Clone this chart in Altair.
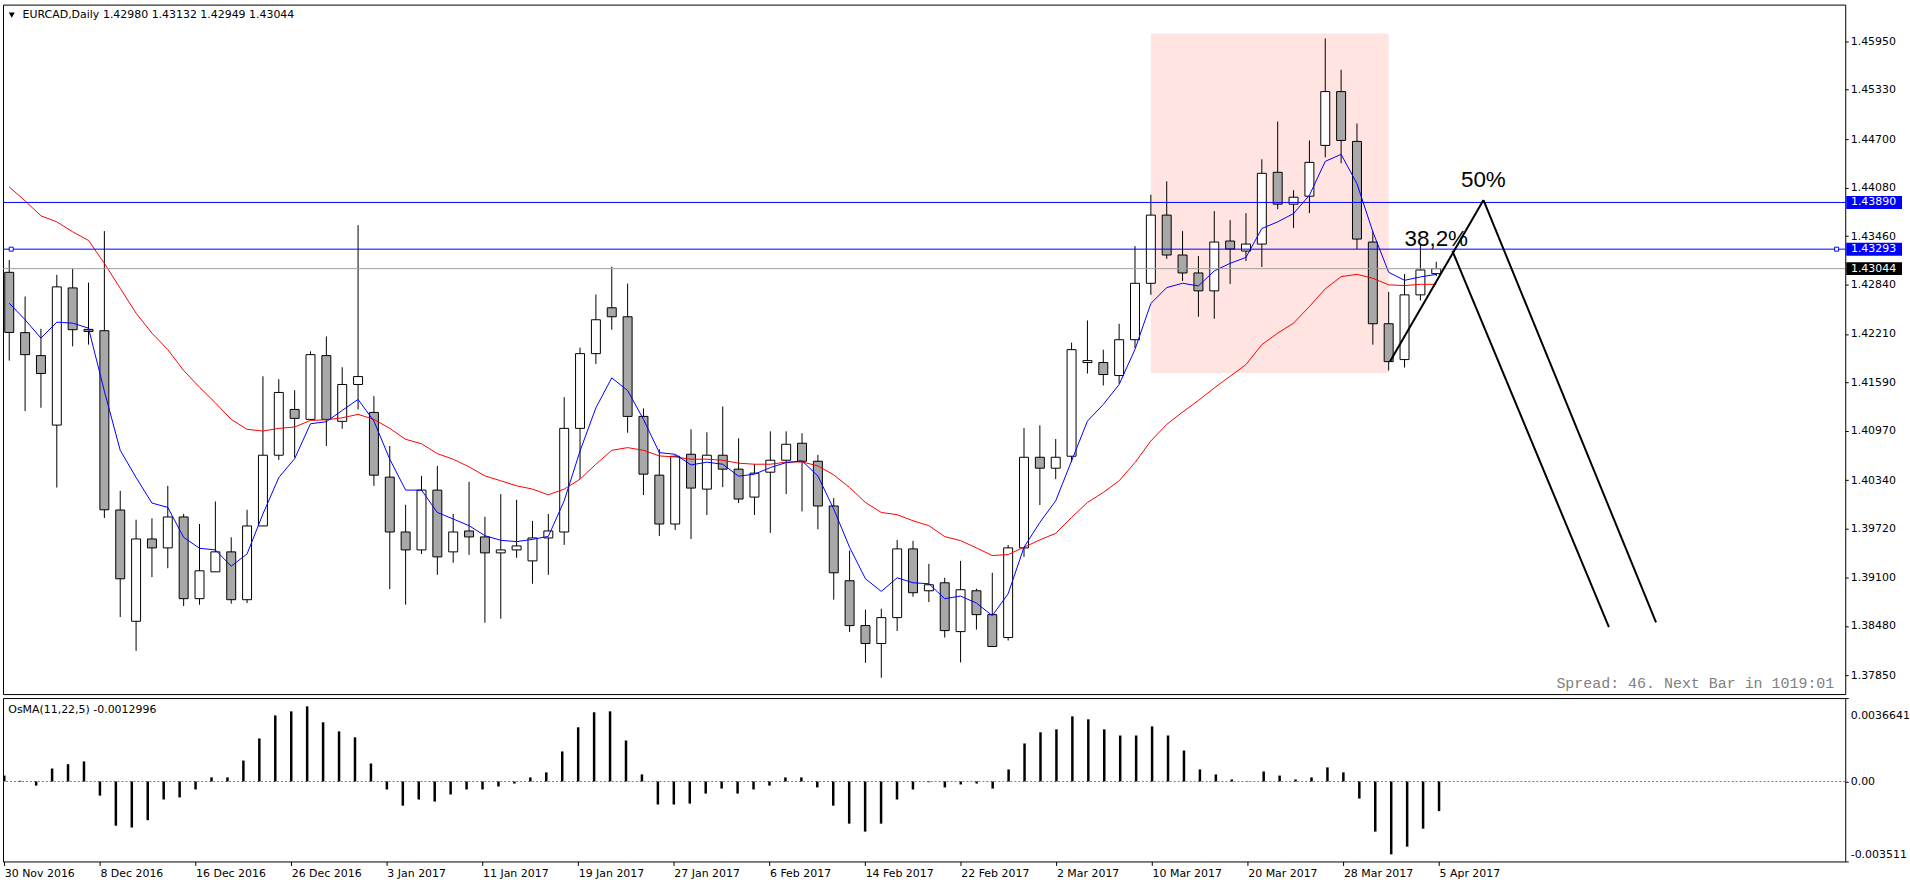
import altair as alt
import pandas as pd

# ---------------- data ----------------
bar_index = list(range(91))

open_ = [1.42997, 1.42226, 1.41933, 1.41045, 1.42798, 1.42268, 1.42251, 1.39960, 1.38538, 1.39590,
         1.39476, 1.39871, 1.38827, 1.39170, 1.39425, 1.38814, 1.39756, 1.40660, 1.41245, 1.41118,
         1.41933, 1.41093, 1.41564, 1.41207, 1.40380, 1.39679, 1.39450, 1.40214, 1.39425, 1.39692,
         1.39616, 1.39412, 1.39450, 1.39310, 1.39603, 1.39679, 1.41003, 1.41958, 1.42544, 1.42429,
         1.41156, 1.40405, 1.39781, 1.40672, 1.40227, 1.40660, 1.40482, 1.40125, 1.40443, 1.40596,
         1.40813, 1.40583, 1.40011, 1.39056, 1.38483, 1.38254, 1.38585, 1.39463, 1.38928, 1.39030,
         1.38406, 1.38928, 1.38623, 1.38330, 1.39476, 1.40634, 1.40494, 1.40647, 1.41844, 1.41844,
         1.41678, 1.42136, 1.42857, 1.43728, 1.43218, 1.42989, 1.42760, 1.43397, 1.43269, 1.43358,
         1.44275, 1.43868, 1.43970, 1.44619, 1.45306, 1.44670, 1.43384, 1.42340, 1.41882, 1.42709,
         1.42980]
high = [1.43155, 1.42688, 1.42276, 1.42964, 1.43040, 1.42866, 1.43524, 1.40205, 1.39836, 1.39853,
        1.40269, 1.39909, 1.39781, 1.40069, 1.39611, 1.39963, 1.41669, 1.41631, 1.41491, 1.41987,
        1.42178, 1.41784, 1.43600, 1.41415, 1.40778, 1.40027, 1.40396, 1.40524, 1.39909, 1.40320,
        1.39874, 1.40163, 1.40091, 1.39820, 1.39909, 1.41402, 1.42035, 1.42713, 1.43070, 1.42853,
        1.41258, 1.40736, 1.40660, 1.40991, 1.40953, 1.41283, 1.40876, 1.40545, 1.40965, 1.40965,
        1.40940, 1.40664, 1.40112, 1.39441, 1.38687, 1.38699, 1.39578, 1.39565, 1.39272, 1.39094,
        1.39310, 1.38954, 1.39158, 1.39514, 1.41007, 1.41042, 1.40867, 1.42098, 1.42382, 1.42009,
        1.42340, 1.43333, 1.43990, 1.44160, 1.43524, 1.43206, 1.43779, 1.43664, 1.43753, 1.44441,
        1.44924, 1.44046, 1.44682, 1.45985, 1.45586, 1.44899, 1.43524, 1.42747, 1.42977, 1.43346,
        1.43132]
low = [1.41869, 1.41224, 1.41266, 1.40247, 1.42051, 1.42073, 1.39858, 1.38592, 1.38160, 1.39102,
       1.39216, 1.38732, 1.38750, 1.39170, 1.38763, 1.38771, 1.39756, 1.40600, 1.40629, 1.41118,
       1.40778, 1.40998, 1.41245, 1.40269, 1.38949, 1.38750, 1.39399, 1.39132, 1.39285, 1.39387,
       1.38521, 1.38572, 1.39349, 1.39018, 1.39132, 1.39514, 1.40358, 1.41826, 1.42264, 1.40947,
       1.40151, 1.39629, 1.39705, 1.39590, 1.39896, 1.40252, 1.40049, 1.39896, 1.39667, 1.40163,
       1.39942, 1.39713, 1.38814, 1.38401, 1.38007, 1.37816, 1.38414, 1.38852, 1.38783, 1.38330,
       1.38012, 1.38432, 1.38216, 1.38292, 1.39361, 1.40023, 1.40354, 1.40571, 1.41704, 1.41551,
       1.41576, 1.42030, 1.42709, 1.43168, 1.42888, 1.42429, 1.42404, 1.42849, 1.43142, 1.43066,
       1.43804, 1.43562, 1.43753, 1.44466, 1.44390, 1.43295, 1.42073, 1.41742, 1.41780, 1.42637,
       1.42949]
close = [1.42229, 1.41945, 1.41704, 1.42811, 1.42264, 1.42242, 1.39963, 1.39081, 1.39590, 1.39476,
         1.39871, 1.38827, 1.39183, 1.39425, 1.38814, 1.39756, 1.40660, 1.41462, 1.41131, 1.41945,
         1.41118, 1.41564, 1.41665, 1.40405, 1.39679, 1.39450, 1.40214, 1.39361, 1.39679, 1.39616,
         1.39412, 1.39450, 1.39501, 1.39603, 1.39692, 1.41003, 1.41958, 1.42391, 1.42429, 1.41156,
         1.40418, 1.39781, 1.40647, 1.40240, 1.40660, 1.40482, 1.40100, 1.40431, 1.40596, 1.40800,
         1.40583, 1.40011, 1.39158, 1.38483, 1.38254, 1.38585, 1.39463, 1.38903, 1.39005, 1.38419,
         1.38941, 1.38623, 1.38216, 1.39476, 1.40634, 1.40494, 1.40634, 1.42009, 1.41869, 1.41691,
         1.42136, 1.42857, 1.43728, 1.43218, 1.42989, 1.42760, 1.43384, 1.43295, 1.43358, 1.44262,
         1.43868, 1.43957, 1.44402, 1.45306, 1.44682, 1.43422, 1.42340, 1.41856, 1.42709, 1.43027,
         1.43044]
fast_ma = [1.42602, 1.42391, 1.42157, 1.42360, 1.42348, 1.42284, 1.41478, 1.40723, 1.40375, 1.40049,
           1.39993, 1.39611, 1.39471, 1.39450, 1.39242, 1.39399, 1.39909, 1.40375, 1.40616, 1.41062,
           1.41088, 1.41233, 1.41373, 1.41096, 1.40609, 1.40214, 1.40214, 1.39929, 1.39845, 1.39760,
           1.39632, 1.39573, 1.39556, 1.39585, 1.39623, 1.40078, 1.40714, 1.41266, 1.41648, 1.41487,
           1.41118, 1.40693, 1.40672, 1.40536, 1.40571, 1.40545, 1.40392, 1.40418, 1.40502, 1.40566,
           1.40587, 1.40396, 1.39972, 1.39484, 1.39081, 1.38920, 1.39094, 1.39030, 1.39018, 1.38827,
           1.38860, 1.38771, 1.38610, 1.38890, 1.39484, 1.39802, 1.40078, 1.40587, 1.41096, 1.41309,
           1.41564, 1.42013, 1.42599, 1.42802, 1.42857, 1.42824, 1.43015, 1.43112, 1.43188, 1.43557,
           1.43642, 1.43748, 1.43982, 1.44415, 1.44504, 1.44130, 1.43515, 1.42997, 1.42895, 1.42938,
           1.42971]
slow_ma = [1.44088, 1.43910, 1.43719, 1.43642, 1.43515, 1.43404, 1.43112, 1.42793, 1.42475, 1.42220,
           1.42009, 1.41742, 1.41529, 1.41329, 1.41118, 1.40991, 1.40969, 1.41003, 1.41020, 1.41105,
           1.41113, 1.41138, 1.41182, 1.41118, 1.41003, 1.40863, 1.40807, 1.40680, 1.40609, 1.40511,
           1.40396, 1.40333, 1.40269, 1.40227, 1.40154, 1.40227, 1.40354, 1.40545, 1.40723, 1.40757,
           1.40723, 1.40651, 1.40638, 1.40609, 1.40609, 1.40596, 1.40558, 1.40545, 1.40545, 1.40571,
           1.40574, 1.40524, 1.40409, 1.40247, 1.40056, 1.39929, 1.39900, 1.39823, 1.39760, 1.39620,
           1.39569, 1.39476, 1.39378, 1.39391, 1.39484, 1.39578, 1.39662, 1.39865, 1.40056, 1.40184,
           1.40333, 1.40566, 1.40842, 1.41054, 1.41211, 1.41360, 1.41520, 1.41669, 1.41818, 1.42073,
           1.42220, 1.42348, 1.42560, 1.42786, 1.42942, 1.42971, 1.42921, 1.42837, 1.42828, 1.42844,
           1.42844]
osma = [0.00026, 0.00003, -0.00018, 0.00057, 0.00076, 0.00088, -0.00062, -0.00194, -0.00202, -0.00170,
        -0.00079, -0.00070, -0.00035, 0.00018, 0.00018, 0.00092, 0.00189, 0.00290, 0.00308, 0.00330,
        0.00260, 0.00220, 0.00194, 0.00079, -0.00035, -0.00106, -0.00079, -0.00088, -0.00057, -0.00035,
        -0.00035, -0.00022, -0.00009, 0.00018, 0.00040, 0.00132, 0.00238, 0.00304, 0.00308, 0.00180,
        0.00031, -0.00101, -0.00101, -0.00097, -0.00053, -0.00031, -0.00053, -0.00035, -0.00018, 0.00018,
        0.00018, -0.00026, -0.00106, -0.00185, -0.00220, -0.00185, -0.00079, -0.00035, -0.00003, -0.00026,
        -0.00013, -0.00009, -0.00031, 0.00053, 0.00167, 0.00216, 0.00229, 0.00286, 0.00273, 0.00229,
        0.00202, 0.00202, 0.00242, 0.00202, 0.00136, 0.00053, 0.00031, 0.00009, 0.00001, 0.00044,
        0.00026, 0.00009, 0.00018, 0.00062, 0.00040, -0.00075, -0.00220, -0.00320, -0.00286, -0.00207,
        -0.0012996]

date_labels = ["30 Nov 2016", "8 Dec 2016", "16 Dec 2016", "26 Dec 2016", "3 Jan 2017", "11 Jan 2017",
               "19 Jan 2017", "27 Jan 2017", "6 Feb 2017", "14 Feb 2017", "22 Feb 2017", "2 Mar 2017",
               "10 Mar 2017", "20 Mar 2017", "28 Mar 2017", "5 Apr 2017"]
date_label_bars = [0, 6, 12, 18, 24, 30, 36, 42, 48, 54, 60, 66, 72, 78, 84, 90]

price_ticks = [1.37850, 1.38480, 1.39100, 1.39720, 1.40340, 1.40970, 1.41590, 1.42210, 1.42840,
               1.43460, 1.44080, 1.44700, 1.45330, 1.45950]
osma_ticks = [0.0036641, 0.0, -0.003511]
osma_tick_labels = ["0.0036641", "0.00", "-0.003511"]

level_prices = [1.43890, 1.43293]
level_labels = ["1.43890", "1.43293"]
bid_price = 1.43044
bid_label = "1.43044"

zone_bars = [72, 87]
zone_prices = [1.41711, 1.46048]

pattern_seg = ["up", "up", "leg1", "leg1", "leg2", "leg2"]
pattern_bar = [87.09, 92.98, 91.02, 100.89, 92.98, 103.86]
pattern_price = [1.41860, 1.43920, 1.43270, 1.38462, 1.43920, 1.38525]

fib_text = ["38,2%", "50%"]
fib_bar = [90.0, 92.97]
fib_price = [1.43337, 1.44088]

handle_bars = [0.125, 115.25]

title_name = "EURCAD,Daily"
title_quote = "1.42980 1.43132 1.42949 1.43044"
osma_title = "OsMA(11,22,5) -0.0012996"
spread_text = "Spread: 46. Next Bar in 1019:01"

# ---------------- layout ----------------
W = 1849
H_MAIN = 692
H_OSMA = 164
X_DOMAIN = [-0.08, 115.48]
Y_DOMAIN = [1.37608, 1.46418]
OSMA_DOMAIN = [-0.003511, 0.0036641]
FONT = "DejaVu Sans"

df = pd.DataFrame({"bar": bar_index, "open": open_, "high": high, "low": low, "close": close,
                   "fast": fast_ma, "slow": slow_ma, "osma": osma})

xs = alt.Scale(domain=X_DOMAIN, nice=False, zero=False)
ys = alt.Scale(domain=Y_DOMAIN, nice=False, zero=False)
os_s = alt.Scale(domain=OSMA_DOMAIN, nice=False, zero=False)

main_axis = alt.Axis(orient="right", values=price_ticks, format=".5f", grid=False, domain=False,
                     tickSize=3, tickColor="black", labelColor="black", labelFont=FONT,
                     labelFontSize=11, labelPadding=2, labelOverlap=False, labelFlush=False,
                     title=None)

label_expr = "[" + ",".join("'%s'" % s for s in date_labels) + "][round(datum.value / 6)]"
x_axis = alt.Axis(values=date_label_bars, labelExpr=label_expr, orient="bottom", grid=False,
                  domain=False, tickSize=4, tickColor="black", labelColor="black", labelFont=FONT,
                  labelFontSize=11, labelAlign="left", labelBaseline="top", labelPadding=2,
                  labelOverlap=False, labelFlush=False, title=None)
osma_expr = ("datum.value > 0.001 ? '%s' : (datum.value < -0.001 ? '%s' : '%s')"
             % (osma_tick_labels[0], osma_tick_labels[2], osma_tick_labels[1]))
osma_axis = alt.Axis(orient="right", values=osma_ticks, labelExpr=osma_expr, grid=False,
                     domain=False, tickSize=3, tickColor="black", labelColor="black",
                     labelFont=FONT, labelFontSize=11, labelPadding=2, labelOverlap=False,
                     labelFlush=False, title=None,
                     labelOffset={"condition": [{"test": "datum.value > 0.001", "value": 18},
                                                {"test": "datum.value < -0.001", "value": -7}],
                                  "value": 0})


def X(field):
    return alt.X(field, type="quantitative", scale=xs, axis=None, title=None)


def Y(field):
    return alt.Y(field, type="quantitative", scale=ys, axis=main_axis, title=None)


def XO(field):
    return alt.X(field, type="quantitative", scale=xs, axis=x_axis, title=None)


def YO(field):
    return alt.Y(field, type="quantitative", scale=os_s, axis=osma_axis, title=None)


zone_df = pd.DataFrame({"b1": [zone_bars[0]], "b2": [zone_bars[1]],
                        "p1": [zone_prices[0]], "p2": [zone_prices[1]]})
zone = alt.Chart(zone_df).mark_rect(color="#FFE4E1").encode(
    x=X("b1"), x2="b2:Q", y=Y("p1"), y2="p2:Q")

base = alt.Chart(df)
wicks = base.mark_rule(color="black", strokeWidth=1).encode(x=X("bar"), y=Y("low"), y2="high:Q")
bodies = base.mark_bar(size=9, stroke="black", strokeWidth=1).encode(
    x=X("bar"), y=Y("open"), y2="close:Q",
    fill=alt.condition("datum.close >= datum.open", alt.value("white"), alt.value("#A8A8A8")))
slow_line = base.mark_line(color="#FF0000", strokeWidth=1).encode(x=X("bar"), y=Y("slow"))
fast_line = base.mark_line(color="#0000FF", strokeWidth=1).encode(x=X("bar"), y=Y("fast"))

lv_df = pd.DataFrame({"price": level_prices, "label": level_labels})
bid_df = pd.DataFrame({"price": [bid_price], "label": [bid_label]})
bid_rule = alt.Chart(bid_df).mark_rule(color="#A0A0A0", strokeWidth=1).encode(y=Y("price"))
level_rules = alt.Chart(lv_df).mark_rule(color="#0000FF", strokeWidth=1).encode(y=Y("price"))

handle_df = pd.DataFrame({"bar": handle_bars, "price": [level_prices[1]] * len(handle_bars)})
handles = alt.Chart(handle_df).mark_square(size=16, fill="white", stroke="#0000FF",
                                           strokeWidth=1, opacity=1).encode(x=X("bar"), y=Y("price"))

pat_df = pd.DataFrame({"seg": pattern_seg, "bar": pattern_bar, "price": pattern_price})
pattern = alt.Chart(pat_df).mark_line(color="black", strokeWidth=2).encode(
    x=X("bar"), y=Y("price"), detail="seg:N")

fib_df = pd.DataFrame({"t": fib_text, "bar": fib_bar, "price": fib_price})
fib = alt.Chart(fib_df).mark_text(font="Liberation Sans", fontSize=22.5, color="black",
                                  align="center", baseline="alphabetic").encode(
    x=X("bar"), y=Y("price"), text="t:N")

box_df = pd.DataFrame({"price": level_prices + [bid_price], "label": level_labels + [bid_label],
                       "bg": ["#0000FF", "#0000FF", "#000000"]})
boxes = alt.Chart(box_df).mark_rule(strokeWidth=13, strokeCap="butt").encode(
    y=Y("price"), x=alt.value(W + 1), x2=alt.value(W + 57), color=alt.Color("bg:N", scale=None))
box_text = alt.Chart(box_df).mark_text(font=FONT, fontSize=11, color="white", align="left",
                                       baseline="middle").encode(
    y=Y("price"), x=alt.value(W + 5.7), text="label:N")

title_df = pd.DataFrame({"name": [title_name], "quote": [title_quote]})
tri = alt.Chart(title_df).mark_point(shape="triangle-down", filled=True, color="black", size=36,
                                     opacity=1).encode(x=alt.value(8.8), y=alt.value(10.5))
title_a = alt.Chart(title_df).mark_text(font=FONT, fontSize=11, color="black", align="left",
                                        baseline="middle").encode(
    x=alt.value(19.7), y=alt.value(10.7), text="name:N")
title_b = alt.Chart(title_df).mark_text(font=FONT, fontSize=11, color="black", align="left",
                                        baseline="middle").encode(
    x=alt.value(100.3), y=alt.value(10.7), text="quote:N")

spread_df = pd.DataFrame({"t": [spread_text]})
spread = alt.Chart(spread_df).mark_text(font="Liberation Mono", fontSize=15, color="#808080",
                                        align="right", baseline="alphabetic").encode(
    x=alt.value(1838), y=alt.value(686), text="t:N")

main = alt.layer(zone, wicks, bodies, slow_line, fast_line, bid_rule, level_rules, handles,
                 pattern, fib, boxes, box_text, tri, title_a, title_b, spread).properties(
    width=W, height=H_MAIN)

# ---------------- OsMA panel ----------------
osma_bars = base.mark_rule(color="black", strokeWidth=2.5).encode(
    x=XO("bar"), y=YO("osma"), y2=alt.datum(0))
zero_df = pd.DataFrame({"z": [0.0]})
zero_line = alt.Chart(zero_df).mark_rule(color="#808080", strokeWidth=1, strokeDash=[2, 2]).encode(
    y=YO("z"))
osma_title_df = pd.DataFrame({"t": [osma_title]})
osma_lbl = alt.Chart(osma_title_df).mark_text(font=FONT, fontSize=11, color="black", align="left",
                                              baseline="middle").encode(
    x=alt.value(5.3), y=alt.value(12.3), text="t:N")

osma_panel = alt.layer(zero_line, osma_bars, osma_lbl).properties(width=W, height=H_OSMA)

chart = alt.vconcat(main, osma_panel, spacing=2).properties(
    padding={"left": 2, "top": 2, "right": 0, "bottom": 0},
    background="white",
).configure_view(stroke="black", strokeWidth=1)

chart.save("out.html", embed_options={"renderer": "svg", "actions": False})
